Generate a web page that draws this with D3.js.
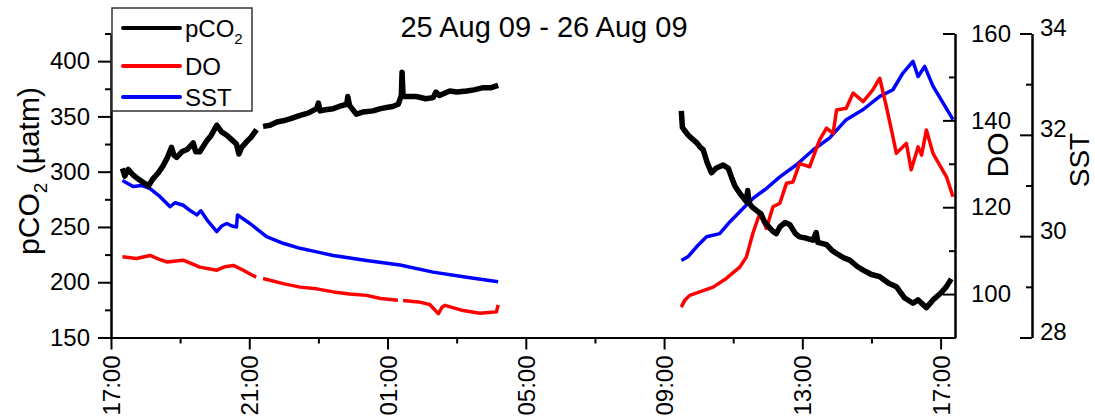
<!DOCTYPE html>
<html>
<head>
<meta charset="utf-8">
<script src="https://cdn.jsdelivr.net/npm/d3@7"></script>
<style>
	body { margin: 0; background: #fff; }
	svg { font-family: "Liberation Sans", Arial, sans-serif; }
</style>
</head>
<body>
<svg id="chart" width="1095" height="417"></svg>
<script>

// hours since 25 Aug 09 17:00, value ; null marks a gap in the record
var pco2Data = [
	[0.33,303],[0.4,296],[0.5,302],[0.64,297],[0.8,293],[0.95,290],[1.08,287],[1.2,293],[1.37,299],[1.5,305],
	[1.62,312],[1.75,322],[1.82,315],[1.9,313],[2.05,318],[2.2,320],[2.38,326],[2.45,318],[2.57,318],[2.75,327],
	[2.9,333],[3.06,342],[3.2,336],[3.35,333],[3.49,329],[3.63,325],[3.7,316],[3.78,322],[3.92,327],[4.05,331],
	[4.21,338],[4.3,null],[4.4,341],[4.6,342],[4.8,345],[4.98,346],[5.2,348],[5.47,351],[5.7,353],[5.95,357],
	[6.0,362],[6.05,355],[6.2,356],[6.43,357],[6.6,359],[6.82,361],[6.85,368],[6.9,360],[7.1,352],[7.3,354],
	[7.58,355],[7.8,357],[7.97,358],[8.15,359],[8.31,361],[8.4,369],[8.42,390],[8.45,368],[8.6,368],[8.84,368],
	[9.1,366],[9.32,367],[9.4,372],[9.5,369],[9.8,373],[10.0,372],[10.29,373],[10.5,374],[10.77,376],[11.0,376],
	[11.2,378],[13.0,null],
	[16.5,355],[16.53,340],[16.6,337],[16.7,333],[16.84,329],[16.95,326],[17.05,322],[17.13,320],[17.25,308],[17.37,299],
	[17.5,303],[17.71,306],[17.86,303],[17.95,295],[18.05,287],[18.2,280],[18.38,273],[18.42,283],[18.45,272],[18.55,268],
	[18.67,265],[18.8,262],[18.9,255],[19.06,249],[19.15,246],[19.25,244],[19.35,250],[19.5,254],[19.64,252],[19.8,244],
	[19.92,241],[20.1,240],[20.31,238],[20.4,245],[20.45,236],[20.7,234],[20.85,229],[20.99,226],[21.2,222],[21.37,220],
	[21.6,214],[21.76,211],[22.0,207],[22.24,205],[22.5,199],[22.72,196],[22.95,186],[23.2,181],[23.35,184],[23.59,177],
	[23.78,184],[24.0,190],[24.17,196],[24.31,203]
];

var doData = [
	[0.33,108.6],[0.74,108.2],[1.13,108.9],[1.4,108.0],[1.61,107.4],[2.09,107.8],[2.57,106.2],[3.06,105.5],[3.3,106.3],[3.54,106.6],
	[3.8,105.6],[4.05,104.5],[4.2,103.9],[4.3,null],[4.4,103.6],[4.98,102.4],[5.47,101.6],[5.95,101.2],[6.43,100.5],[6.9,100.0],
	[7.39,99.7],[7.8,99.0],[8.3,98.6],[8.38,null],[8.45,98.5],[8.9,98.2],[9.22,97.6],[9.35,96.5],[9.47,95.5],[9.58,97.0],
	[9.66,97.4],[10.19,96.2],[10.67,95.6],[11.0,95.8],[11.15,95.9],[11.2,97.5],[13.0,null],
	[16.5,97.0],[16.6,98.6],[16.74,99.7],[17.03,100.5],[17.42,101.6],[17.8,103.6],[18.19,106.2],[18.38,108.5],[18.57,114],[18.77,118.6],
	[18.96,115.1],[19.15,120.1],[19.35,120.9],[19.54,125.5],[19.73,125.8],[19.92,130.1],[20.21,129.3],[20.5,135.5],[20.7,138.2],[20.89,137],
	[20.99,142.4],[21.27,142.8],[21.47,146.3],[21.76,144.3],[22.04,147],[22.24,149.7],[22.43,143.2],[22.6,137],[22.72,132.4],[23.01,134.7],
	[23.15,128.6],[23.35,133.9],[23.45,132],[23.59,137.8],[23.78,132.4],[24.17,127],[24.36,122.4]
];

var sstData = [
	[0.33,31.1],[0.64,30.98],[0.9,31.0],[1.13,30.94],[1.42,30.78],[1.71,30.58],[1.85,30.66],[2.09,30.61],[2.3,30.5],[2.48,30.42],
	[2.6,30.5],[2.8,30.3],[3.06,30.09],[3.2,30.2],[3.35,30.25],[3.5,30.2],[3.63,30.18],[3.66,30.42],[3.85,30.33],[4.02,30.25],
	[4.5,29.99],[4.98,29.86],[5.47,29.76],[5.95,29.69],[6.43,29.62],[7.39,29.52],[8.36,29.43],[9.32,29.29],[10.29,29.19],[11.2,29.1],
	[13.0,null],
	[16.5,29.52],[16.7,29.6],[16.94,29.79],[17.23,29.99],[17.61,30.05],[17.9,30.28],[18.29,30.55],[18.58,30.75],[18.96,30.94],[19.35,31.17],
	[19.83,31.41],[20.31,31.7],[20.79,31.94],[21.27,32.3],[21.76,32.5],[22.24,32.76],[22.62,32.89],[22.91,33.22],[23.2,33.45],[23.35,33.15],
	[23.54,33.35],[23.78,32.96],[24.07,32.63],[24.36,32.3]
];

var xTickLabels = ["17:00", "21:00", "01:00", "05:00", "09:00", "13:00", "17:00"];
var pco2Ticks = [150, 200, 250, 300, 350, 400];
var doTicks = [100, 120, 140, 160];
var sstTicks = [28, 30, 32, 34];
var seriesNames = ["pCO2", "DO", "SST"];
var seriesColours = ["#000000", "#ff0000", "#0000ff"];
var chartTitle = "25 Aug 09 - 26 Aug 09";

var svg = d3.select("#chart");
var margin = {left: 111, top: 33.5, right: 140, bottom: 79.5};
var width = 1095 - margin.left - margin.right,
	height = 417 - margin.top - margin.bottom;

var t0 = new Date(2009, 7, 25, 17, 0),
	tEnd = new Date(2009, 7, 26, 17, 25);
var hour = 3600 * 1000;
var toDate = h => new Date(t0.getTime() + h * hour);

var x = d3.scaleTime().domain([t0, tEnd]).range([0, width]);
var yL = d3.scaleLinear().domain([150, 425]).range([height, 0]);
var yDO = d3.scaleLinear().domain([90, 160]).range([height, 0]);
var ySST = d3.scaleLinear().domain([28, 34]).range([height, 0]);

var g = svg.append("g").attr("transform", `translate(${margin.left},${margin.top})`);

// lines
var mkLine = y => d3.line()
	.defined(d => d[1] !== null)
	.x(d => x(toDate(d[0])))
	.y(d => y(d[1]));

g.append("path").datum(sstData)
	.attr("d", mkLine(ySST))
	.attr("fill", "none").attr("stroke", seriesColours[2])
	.attr("stroke-width", 3.5).attr("stroke-linejoin", "round");
g.append("path").datum(doData)
	.attr("d", mkLine(yDO))
	.attr("fill", "none").attr("stroke", seriesColours[1])
	.attr("stroke-width", 3.5).attr("stroke-linejoin", "round");
g.append("path").datum(pco2Data)
	.attr("d", mkLine(yL))
	.attr("fill", "none").attr("stroke", seriesColours[0])
	.attr("stroke-width", 5.5).attr("stroke-linejoin", "round");

// axes
var fontSize = 24;
var styleAxis = sel => {
	sel.select(".domain").attr("stroke", "#000").attr("stroke-width", 2);
	sel.selectAll(".tick line").attr("stroke", "#000").attr("stroke-width", 2);
	sel.selectAll("text").attr("font-size", fontSize).attr("fill", "#000")
		.attr("font-family", "Liberation Sans, Arial, sans-serif");
};

var majorX = xTickLabels.map((d, i) => toDate(i * 4));
var minorX = xTickLabels.slice(1).map((d, i) => toDate(i * 4 + 2));

g.append("g").attr("transform", `translate(0,${height})`)
	.call(d3.axisBottom(x).tickValues(minorX).tickSize(6).tickSizeOuter(0).tickFormat(""))
	.call(styleAxis);
g.append("g").attr("transform", `translate(0,${height})`)
	.call(d3.axisBottom(x).tickValues(majorX).tickSize(12).tickSizeOuter(0).tickFormat((d, i) => xTickLabels[i]))
	.call(styleAxis)
	.call(a => a.selectAll("text")
		.attr("transform", "rotate(-90)")
		.attr("text-anchor", "end")
		.attr("x", -18).attr("y", 0).attr("dy", "0.36em"));

g.append("g")
	.call(d3.axisLeft(yL).tickValues(pco2Ticks.map(d => d + 25)).tickSize(6).tickSizeOuter(0).tickFormat(""))
	.call(styleAxis);
g.append("g")
	.call(d3.axisLeft(yL).tickValues(pco2Ticks).tickSize(13).tickSizeOuter(0).tickPadding(8))
	.call(styleAxis);

g.append("g").attr("transform", `translate(${width},0)`)
	.call(d3.axisRight(yDO).tickValues(doTicks.map(d => d - 10)).tickSize(-6).tickSizeOuter(0).tickFormat(""))
	.call(styleAxis);
g.append("g").attr("transform", `translate(${width},0)`)
	.call(d3.axisRight(yDO).tickValues(doTicks).tickSize(-12).tickSizeOuter(0).tickPadding(16))
	.call(styleAxis);

var sstX = width + 77;
g.append("g").attr("transform", `translate(${sstX},0)`)
	.call(d3.axisRight(ySST).tickValues(sstTicks.slice(1).map(d => d - 1)).tickSize(-6).tickSizeOuter(0).tickFormat(""))
	.call(styleAxis);
g.append("g").attr("transform", `translate(${sstX},0)`)
	.call(d3.axisRight(ySST).tickValues(sstTicks).tickSize(-12).tickSizeOuter(0).tickPadding(8).tickFormat(d3.format("d")))
	.call(styleAxis)
	.call(a => a.selectAll("text").attr("dy", "0.08em"));

// axis titles
svg.append("text")
	.attr("transform", `translate(39,171) rotate(-90)`)
	.attr("text-anchor", "middle")
	.attr("font-size", 30)
	.call(t => {
		t.append("tspan").text("pCO");
		t.append("tspan").attr("font-size", 19).attr("dy", 8).text("2");
		t.append("tspan").attr("dy", -8).text(" (\u00b5atm)");
	});

svg.append("text")
	.attr("transform", `translate(1008,155) rotate(-90)`)
	.attr("text-anchor", "middle")
	.attr("font-size", 30)
	.text("DO");

svg.append("text")
	.attr("transform", `translate(1089,160) rotate(-90)`)
	.attr("text-anchor", "middle")
	.attr("font-size", 28)
	.text("SST");

// title
svg.append("text")
	.attr("x", 544).attr("y", 37)
	.attr("text-anchor", "middle")
	.attr("font-size", 29)
	.text(chartTitle);

// legend
var legend = svg.append("g").attr("transform", "translate(112,8)");
legend.append("rect")
	.attr("width", 140).attr("height", 103)
	.attr("fill", "#fff").attr("stroke", "#333").attr("stroke-width", 1.5);

var legendY = [20, 58, 89];
var item = legend.selectAll("g.item")
	.data(seriesNames)
	.join("g")
		.attr("class", "item")
		.attr("transform", (d, i) => `translate(0,${legendY[i]})`);
item.append("line")
	.attr("x1", 11).attr("x2", 68)
	.attr("stroke", (d, i) => seriesColours[i])
	.attr("stroke-width", 4).attr("stroke-linecap", "round");
item.append("text")
	.attr("x", 73).attr("y", 8.5)
	.attr("font-size", 24)
	.each(function(d) {
		var t = d3.select(this);
		if (d === "pCO2") {
			t.append("tspan").text("pCO");
			t.append("tspan").attr("font-size", 15).attr("dy", 7).text("2");
		} else {
			t.text(d);
		}
	});

</script>
</body>
</html>
